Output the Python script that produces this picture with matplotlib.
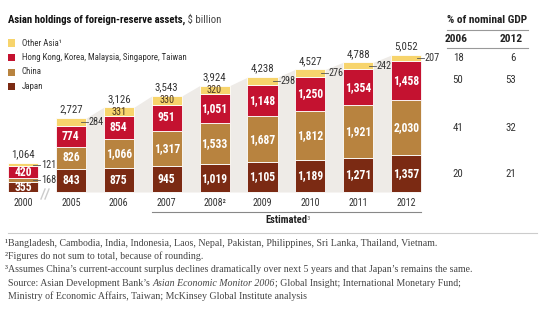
import matplotlib
matplotlib.use('Agg')
import matplotlib.pyplot as plt
from matplotlib.patches import Rectangle
from matplotlib.lines import Line2D
import matplotlib.transforms as mtrans
from matplotlib import font_manager

# ---------------- data ----------------
years = ['2000', '2005', '2006', '2007', '2008²', '2009', '2010', '2011', '2012']
japan = [355, 843, 875, 945, 1019, 1105, 1189, 1271, 1357]
china = [168, 826, 1066, 1317, 1533, 1687, 1812, 1921, 2030]
hk = [420, 774, 854, 951, 1051, 1148, 1250, 1354, 1458]
other = [121, 284, 331, 330, 320, 298, 276, 242, 207]
totals = [1064, 2727, 3126, 3543, 3924, 4238, 4527, 4788, 5052]
legend_names = ['Other Asia¹', 'Hong Kong, Korea, Malaysia, Singapore, Taiwan', 'China', 'Japan']
gdp_2006 = [18, 50, 41, 20]
gdp_2012 = [6, 53, 32, 21]
other_inside = [False, False, True, True, True, False, False, False, False]
china_inside = [False, True, True, True, True, True, True, True, True]

footnotes = [
    '¹Bangladesh, Cambodia, India, Indonesia, Laos, Nepal, Pakistan, Philippines, Sri Lanka, Thailand, Vietnam.',
    '²Figures do not sum to total, because of rounding.',
    '³Assumes China’s current-account surplus declines dramatically over next 5 years and that Japan’s remains the same.',
]

C_OTHER = '#f7d46c'
C_HK = '#c41230'
C_CHINA = '#b8833f'
C_JAPAN = '#7b2a13'
TXT = '#333333'

# pick a narrow sans font (with a bold face) if one is installed
ttf = font_manager.fontManager.ttflist


def has_bold(name):
    for f in ttf:
        if f.name == name:
            w = f.weight
            if isinstance(w, str):
                w = font_manager.weight_dict.get(w, 400)
            if w >= 600:
                return True
    return False


names = sorted({f.name for f in ttf})
prefs = ['Liberation Sans Narrow', 'Roboto Condensed', 'DejaVu Sans Condensed',
         'Noto Sans Condensed', 'Open Sans Condensed', 'Arial Narrow']
cands = [n for n in prefs if n in names and has_bold(n)]
if not cands:
    cands = [n for n in names if ('Narrow' in n or 'Condensed' in n) and has_bold(n)]
if cands:
    SK = dict(family=[cands[0], 'DejaVu Sans'])
else:
    SK = dict(family=['Roboto', 'DejaVu Sans'])
SERIF = ['Liberation Serif', 'DejaVu Serif']

W, H = 545, 327
fig = plt.figure(figsize=(W / 100, H / 100), dpi=100)
fig.patch.set_facecolor('white')
renderer = fig.canvas.get_renderer()


def fx(p):
    return p / W


def fy(p):
    return 1 - p / H


def fit(text, target_px, **kw):
    """font size giving the wanted width in pixels"""
    t = fig.text(0, 0, text, fontsize=10, **kw)
    wpx = t.get_window_extent(renderer=renderer).width
    t.remove()
    return 10 * target_px / wpx


FS_SEG = fit('1,148', 26.5, fontweight='bold', **SK)
FS_TOT = fit('4,527', 23.5, **SK)
FS_TICK = fit('2005', 19.5, **SK)
FS_OUT = fit('284', 15, **SK)
FS_LEG = fit(legend_names[1], 166, **SK)
FS_TAB = fit('% of nominal GDP', 80, fontweight='bold', **SK)
FS_EST = fit('Estimated', 42, fontweight='bold', **SK)
FS_FN = fit(footnotes[0], 428, family=SERIF)

ax = fig.add_axes([fx(1.445), fy(192), 433.5 / W, 162.6 / H])
ax.set_xlim(-0.45, 8.6)
ax.set_ylim(0, 6000)
ax.axis('off')

x = list(range(len(years)))
bw = 0.63

# grey band behind bars 2005-2012
xs, ys = [], []
for i in range(1, len(years)):
    xs += [i - bw / 2, i + bw / 2]
    ys += [totals[i], totals[i]]
ax.fill_between(xs, 0, ys, color='#eeebe7', lw=0, zorder=0)

bottom = [0] * len(years)
seg_bottoms = {}
for name, vals, col in [('japan', japan, C_JAPAN), ('china', china, C_CHINA),
                        ('hk', hk, C_HK), ('other', other, C_OTHER)]:
    ax.bar(x, vals, bw, bottom=bottom, color=col, edgecolor='white', linewidth=0.6, zorder=2)
    seg_bottoms[name] = list(bottom)
    bottom = [b + v for b, v in zip(bottom, vals)]


def outside(i, yv, val):
    edge = i + bw / 2
    ax.add_line(Line2D([edge - 0.1, edge + 0.05], [yv, yv], color='#555555', lw=0.6, zorder=3))
    ax.text(edge + 0.06, yv, f'{val:,}', ha='left', va='center', fontsize=FS_OUT,
            color=TXT, zorder=3, **SK)


for i in x:
    yv = seg_bottoms['japan'][i] + japan[i] / 2
    ax.text(i, yv, f'{japan[i]:,}', ha='center', va='center', fontsize=FS_SEG, fontweight='bold',
            color='white', zorder=3, **SK)
    yv = seg_bottoms['china'][i] + china[i] / 2
    if china_inside[i]:
        ax.text(i, yv, f'{china[i]:,}', ha='center', va='center', fontsize=FS_SEG, fontweight='bold',
                color='white', zorder=3, **SK)
    else:
        outside(i, yv, china[i])
    yv = seg_bottoms['hk'][i] + hk[i] / 2
    ax.text(i, yv, f'{hk[i]:,}', ha='center', va='center', fontsize=FS_SEG, fontweight='bold',
            color='white', zorder=3, **SK)
    yv = seg_bottoms['other'][i] + other[i] / 2
    if other_inside[i]:
        ax.text(i, yv, f'{other[i]:,}', ha='center', va='center', fontsize=FS_OUT,
                color='#4a3520', zorder=3, **SK)
    else:
        outside(i, yv, other[i])
    ax.annotate(f'{totals[i]:,}', (i, totals[i]), xytext=(0, 2.5), textcoords='offset points',
                ha='center', va='bottom', fontsize=FS_TOT, color=TXT, zorder=3, **SK)

# x labels
tx = mtrans.blended_transform_factory(ax.transData, fig.transFigure)
for i, lab in enumerate(years):
    ax.text(i, fy(202.5), lab, transform=tx, ha='center', va='center', fontsize=FS_TICK,
            color=TXT, **SK)

# axis break mark
for dx in (0, 4):
    fig.add_artist(Line2D([fx(41 + dx), fx(45 + dx)], [fy(199), fy(189)], color='#cccccc',
                          lw=1.0, transform=fig.transFigure))

# Estimated bracket
fig.add_artist(Line2D([fx(152), fx(421)], [fy(212), fy(212)], color='#888888', lw=0.8,
                      transform=fig.transFigure))


def rich(pieces, x0, y0, **common):
    xx = x0
    for txt, kw in pieces:
        opts = dict(common)
        opts.update(kw)
        t = fig.text(xx, y0, txt, **opts)
        bb = t.get_window_extent(renderer=renderer)
        xx = bb.x1 / fig.bbox.width
    return xx


t_est = fig.text(0, 0, 'Estimated', fontsize=FS_EST, fontweight='bold', **SK)
wb = t_est.get_window_extent(renderer=renderer).width / fig.bbox.width
t_est.remove()
rich([('Estimated', dict(fontweight='bold', color='#222222')), ('³', dict(color='#888888'))],
     fx(286) - wb / 2, fy(220), fontsize=FS_EST, va='center', **SK)

# title (fit whole title to reference width)
tb = fig.text(0, 0, 'Asian holdings of foreign-reserve assets,', fontsize=10, fontweight='bold', **SK)
tr = fig.text(0, 0, ' \\$ billion', fontsize=10, **SK)
wt = tb.get_window_extent(renderer=renderer).width + tr.get_window_extent(renderer=renderer).width
tb.remove()
tr.remove()
FS_TITLE = 10 * 215 / wt
rich([('Asian holdings of foreign-reserve assets,', dict(fontweight='bold', color='#111111')),
      (' \\$ billion', dict(color='#444444'))],
     fx(8), fy(20), fontsize=FS_TITLE, va='center', **SK)

# legend
leg_cols = [C_OTHER, C_HK, C_CHINA, C_JAPAN]
leg_y = [43, 57.5, 72, 86.5]
for name, col, yy in zip(legend_names, leg_cols, leg_y):
    fig.add_artist(Rectangle((fx(8), fy(yy + 3.5)), 7 / W, 7 / H, transform=fig.transFigure,
                             facecolor=col, edgecolor='none'))
    fig.text(fx(22), fy(yy), name, fontsize=FS_LEG, color=TXT, va='center', **SK)

# right table
fig.text(fx(447), fy(20), '% of nominal GDP', fontsize=FS_TAB, fontweight='bold',
         color='#222222', va='center', **SK)
fig.add_artist(Line2D([fx(447), fx(528)], [fy(30), fy(30)], color='#999999', lw=0.8,
                      transform=fig.transFigure))
fig.text(fx(456), fy(38.5), '2006', fontsize=FS_TAB, fontweight='bold', color='#222222',
         ha='center', va='center', **SK)
fig.text(fx(511), fy(38.5), '2012', fontsize=FS_TAB, fontweight='bold', color='#222222',
         ha='center', va='center', **SK)
fig.add_artist(Line2D([fx(447), fx(528)], [fy(47.5), fy(47.5)], color='#999999', lw=0.8,
                      transform=fig.transFigure))
ty = mtrans.blended_transform_factory(fig.transFigure, ax.transData)
row_y = [seg_bottoms['other'][-1] + other[-1] / 2, seg_bottoms['hk'][-1] + hk[-1] / 2,
         seg_bottoms['china'][-1] + china[-1] / 2, seg_bottoms['japan'][-1] + japan[-1] / 2]
for a, b, yy in zip(gdp_2006, gdp_2012, row_y):
    ax.text(fx(458), yy, str(a), transform=ty, ha='center', va='center', fontsize=FS_TOT,
            color=TXT, **SK)
    ax.text(fx(516), yy, str(b), transform=ty, ha='right', va='center', fontsize=FS_TOT,
            color=TXT, **SK)

# separator
fig.add_artist(Line2D([fx(8), fx(537)], [fy(233), fy(233)], color='#cccccc', lw=0.8,
                      transform=fig.transFigure))

# footnotes
fn_y = [243, 256.5, 270]
for fn, yy in zip(footnotes, fn_y):
    fig.text(fx(5), fy(yy), fn, fontsize=FS_FN, family=SERIF, color='#444444', va='center')
rich([('Source: Asian Development Bank’s ', {}),
      ('Asian Economic Monitor 2006', dict(style='italic')),
      ('; Global Insight; International Monetary Fund;', {})],
     fx(8), fy(284), fontsize=FS_FN, family=SERIF, color='#444444', va='center')
fig.text(fx(8), fy(296), 'Ministry of Economic Affairs, Taiwan; McKinsey Global Institute analysis',
         fontsize=FS_FN, family=SERIF, color='#444444', va='center')

fig.savefig('out.png', dpi=100, facecolor='white')
